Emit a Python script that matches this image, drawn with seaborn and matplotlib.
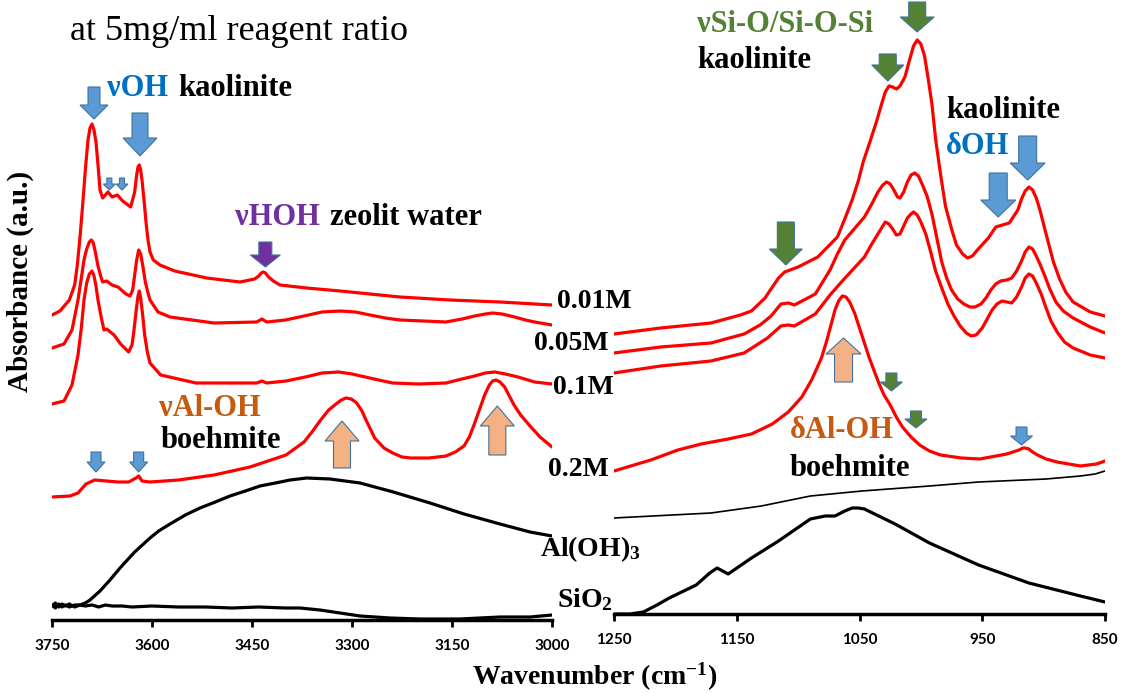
import matplotlib
matplotlib.use("Agg")
import matplotlib.pyplot as plt
from matplotlib.patches import Polygon
from matplotlib.transforms import IdentityTransform
import seaborn as sns

# ---------------- spectra: O-H stretching region (3750-3000 cm-1) ----------------
oh_wn_001 = [3750, 3738, 3724, 3716, 3712, 3708, 3704, 3700, 3696, 3693, 3690, 3687, 3684, 3681,
             3678, 3674, 3666, 3660, 3652, 3644, 3632, 3626, 3623, 3621, 3619, 3617, 3615, 3612,
             3609, 3606, 3603, 3598, 3588, 3566, 3518, 3468, 3446, 3440, 3436, 3433, 3430, 3425,
             3418, 3408, 3368, 3318, 3228, 3153, 3078, 3000]
oh_abs_001 = [3.05, 3.09, 3.20, 3.35, 3.55, 3.83, 4.15, 4.50, 4.80, 4.92, 4.96, 4.90, 4.78, 4.55,
              4.30, 4.22, 4.28, 4.23, 4.25, 4.19, 4.13, 4.28, 4.45, 4.53, 4.55, 4.50, 4.40, 4.20,
              3.98, 3.80, 3.68, 3.60, 3.55, 3.49, 3.42, 3.38, 3.41, 3.44, 3.47, 3.48, 3.47, 3.43,
              3.39, 3.35, 3.32, 3.29, 3.23, 3.20, 3.18, 3.15]

oh_wn_005 = [3750, 3732, 3720, 3711, 3706, 3702, 3698, 3694, 3691, 3688, 3685, 3681, 3677, 3674,
             3668, 3660, 3651, 3639, 3633, 3629, 3626, 3623, 3620, 3617, 3614, 3610, 3606, 3603,
             3591, 3573, 3507, 3443, 3435, 3428, 3400, 3372, 3345, 3318, 3295, 3273, 3250, 3228,
             3159, 3135, 3116, 3100, 3089, 3075, 3056, 3040, 3026, 3000]
oh_abs_005 = [2.72, 2.76, 2.90, 3.20, 3.42, 3.60, 3.71, 3.78, 3.80, 3.77, 3.68, 3.54, 3.44, 3.38,
              3.39, 3.35, 3.33, 3.26, 3.24, 3.30, 3.45, 3.60, 3.70, 3.66, 3.55, 3.38, 3.27, 3.20,
              3.08, 3.03, 2.97, 2.98, 3.01, 2.98, 3.00, 3.04, 3.08, 3.09, 3.08, 3.05, 3.02, 3.00,
              2.98, 3.01, 3.04, 3.06, 3.07, 3.06, 3.03, 3.00, 2.98, 2.95]

oh_wn_01 = [3750, 3732, 3720, 3711, 3706, 3702, 3698, 3694, 3690, 3687, 3684, 3681, 3676, 3672,
            3668, 3657, 3647, 3635, 3630, 3627, 3624, 3621, 3619, 3617, 3614, 3611, 3607, 3603,
            3587, 3534, 3443, 3435, 3428, 3399, 3370, 3345, 3320, 3300, 3280, 3260, 3239, 3200,
            3159, 3135, 3116, 3100, 3086, 3070, 3051, 3026, 3000]
oh_abs_01 = [2.16, 2.19, 2.35, 2.65, 2.92, 3.20, 3.37, 3.46, 3.49, 3.44, 3.34, 3.20, 3.02, 2.90,
             2.91, 2.85, 2.76, 2.68, 2.75, 2.90, 3.08, 3.24, 3.29, 3.22, 3.05, 2.85, 2.68, 2.57,
             2.45, 2.37, 2.37, 2.39, 2.37, 2.39, 2.43, 2.47, 2.48, 2.46, 2.43, 2.40, 2.37, 2.36,
             2.37, 2.41, 2.44, 2.47, 2.48, 2.46, 2.43, 2.38, 2.36]

oh_wn_02 = [3750, 3723, 3711, 3699, 3686, 3668, 3651, 3635, 3624, 3620, 3615, 3603, 3560, 3507,
            3453, 3399, 3372, 3360, 3347, 3335, 3324, 3316, 3309, 3301, 3293, 3285, 3279, 3266,
            3252, 3239, 3225, 3212, 3185, 3159, 3145, 3132, 3124, 3117, 3109, 3101, 3094, 3089,
            3084, 3078, 3071, 3064, 3057, 3047, 3033, 3018, 3000]
oh_abs_02 = [1.23, 1.24, 1.27, 1.36, 1.40, 1.39, 1.38, 1.38, 1.42, 1.44, 1.39, 1.38, 1.40, 1.45,
             1.53, 1.65, 1.78, 1.88, 2.00, 2.10, 2.16, 2.20, 2.22, 2.21, 2.17, 2.09, 2.00, 1.82,
             1.72, 1.67, 1.63, 1.62, 1.62, 1.64, 1.68, 1.74, 1.83, 1.95, 2.10, 2.25, 2.35, 2.39,
             2.40, 2.38, 2.33, 2.24, 2.15, 2.05, 1.94, 1.83, 1.73]

oh_wn_aloh = [3750, 3745, 3740, 3735, 3730, 3724, 3716, 3708, 3700, 3693, 3678, 3663, 3648, 3626,
              3603, 3590, 3573, 3550, 3528, 3505, 3483, 3460, 3438, 3415, 3393, 3368, 3333, 3288,
              3238, 3183, 3132, 3078, 3033, 3000]
oh_abs_aloh = [0.15, 0.12, 0.16, 0.13, 0.15, 0.13, 0.15, 0.15, 0.17, 0.20, 0.29, 0.40, 0.52, 0.68,
               0.82, 0.89, 0.96, 1.05, 1.12, 1.18, 1.24, 1.29, 1.34, 1.37, 1.40, 1.42, 1.41, 1.37,
               1.28, 1.17, 1.06, 0.96, 0.88, 0.84]

oh_wn_sio2 = [3750, 3745, 3740, 3735, 3730, 3724, 3716, 3708, 3700, 3690, 3680, 3670, 3660, 3645,
              3630, 3600, 3560, 3520, 3480, 3440, 3400, 3378, 3348, 3318, 3288, 3243, 3198, 3138,
              3078, 3033, 3000]
oh_abs_sio2 = [0.14, 0.17, 0.13, 0.16, 0.14, 0.16, 0.13, 0.15, 0.14, 0.15, 0.13, 0.15, 0.14, 0.14,
               0.13, 0.14, 0.13, 0.13, 0.12, 0.13, 0.12, 0.12, 0.10, 0.07, 0.04, 0.02, 0.01, 0.01,
               0.03, 0.03, 0.05]

# ---------------- spectra: lattice region (1250-850 cm-1) ----------------
fp_wn_001 = [1250, 1212, 1171, 1147, 1138, 1127, 1116, 1111, 1100, 1084, 1068, 1062, 1056, 1051,
             1047, 1041, 1036, 1032, 1029, 1026, 1023, 1020, 1017, 1013, 1009, 1006, 1003, 1000,
             997, 994, 991, 988, 984, 980, 975, 971, 966, 962, 958, 954, 945, 939, 928, 921, 918,
             915, 912, 909, 906, 903, 898, 892, 887, 882, 876, 862, 850]
fp_abs_001 = [2.80, 2.86, 2.91, 2.99, 3.03, 3.16, 3.36, 3.42, 3.47, 3.57, 3.77, 3.95, 4.14, 4.33,
              4.52, 4.74, 4.93, 5.10, 5.22, 5.28, 5.27, 5.25, 5.28, 5.37, 5.55, 5.68, 5.74, 5.70,
              5.58, 5.35, 5.10, 4.75, 4.40, 4.08, 3.85, 3.69, 3.60, 3.56, 3.58, 3.64, 3.76, 3.87,
              3.91, 4.04, 4.15, 4.23, 4.27, 4.24, 4.16, 4.04, 3.80, 3.52, 3.35, 3.22, 3.12, 3.02,
              2.98]

fp_wn_005 = [1250, 1212, 1171, 1144, 1131, 1122, 1114, 1108, 1103, 1086, 1074, 1068, 1062, 1046,
             1040, 1035, 1031, 1028, 1025, 1022, 1019, 1017, 1014, 1011, 1008, 1005, 1002, 999,
             995, 991, 987, 983, 979, 975, 970, 965, 960, 956, 951, 947, 943, 939, 935, 930, 926,
             922, 918, 915, 912, 909, 906, 903, 899, 895, 890, 884, 876, 862, 850]
fp_abs_005 = [2.61, 2.67, 2.71, 2.80, 2.89, 2.98, 3.10, 3.11, 3.09, 3.20, 3.44, 3.60, 3.74, 3.97,
              4.10, 4.22, 4.29, 4.32, 4.30, 4.24, 4.17, 4.16, 4.22, 4.32, 4.39, 4.41, 4.38, 4.30,
              4.18, 4.00, 3.76, 3.52, 3.36, 3.24, 3.15, 3.10, 3.07, 3.07, 3.10, 3.16, 3.24, 3.30,
              3.33, 3.34, 3.36, 3.43, 3.53, 3.62, 3.67, 3.65, 3.58, 3.50, 3.38, 3.25, 3.12, 3.03,
              2.96, 2.87, 2.81]

fp_wn_01 = [1250, 1212, 1171, 1144, 1125, 1114, 1108, 1103, 1086, 1074, 1064, 1046, 1040, 1035,
            1031, 1029, 1026, 1023, 1020, 1017, 1014, 1011, 1008, 1006, 1003, 1000, 996, 992, 988,
            983, 978, 973, 968, 963, 959, 955, 950, 946, 942, 938, 934, 930, 926, 922, 918, 915,
            912, 909, 906, 902, 898, 894, 889, 883, 876, 862, 850]
fp_abs_01 = [2.41, 2.48, 2.53, 2.61, 2.76, 2.88, 2.89, 2.88, 3.00, 3.19, 3.33, 3.57, 3.70, 3.80,
             3.88, 3.92, 3.90, 3.85, 3.79, 3.80, 3.88, 3.96, 4.00, 4.02, 3.99, 3.92, 3.80, 3.62,
             3.43, 3.26, 3.10, 2.98, 2.88, 2.81, 2.78, 2.79, 2.86, 2.95, 3.04, 3.10, 3.13, 3.12,
             3.11, 3.17, 3.27, 3.36, 3.40, 3.38, 3.31, 3.20, 3.06, 2.93, 2.82, 2.72, 2.66, 2.59,
             2.56]

fp_wn_02 = [1250, 1220, 1198, 1179, 1157, 1138, 1121, 1108, 1097, 1089, 1081, 1077, 1073, 1070,
            1067, 1064, 1061, 1058, 1054, 1050, 1046, 1042, 1038, 1034, 1030, 1025, 1020, 1015,
            1008, 1001, 993, 984, 967, 952, 930, 925, 920, 917, 915, 912, 909, 905, 898, 889, 870,
            857, 850]
fp_abs_02 = [1.43, 1.54, 1.64, 1.70, 1.75, 1.80, 1.90, 2.02, 2.17, 2.34, 2.56, 2.72, 2.90, 3.04,
             3.13, 3.18, 3.17, 3.12, 3.01, 2.86, 2.71, 2.56, 2.43, 2.30, 2.19, 2.09, 1.97, 1.87,
             1.77, 1.69, 1.63, 1.59, 1.56, 1.55, 1.60, 1.62, 1.64, 1.66, 1.66, 1.65, 1.62, 1.59,
             1.55, 1.52, 1.48, 1.50, 1.53]

fp_wn_aloh = [1250, 1171, 1130, 1090, 1048, 993, 953, 898, 870, 858, 850]
fp_abs_aloh = [0.96, 1.01, 1.08, 1.18, 1.23, 1.28, 1.32, 1.35, 1.38, 1.40, 1.43]

fp_wn_sio2 = [1250, 1237, 1226, 1215, 1205, 1183, 1172, 1166, 1163, 1157, 1138, 1116, 1090, 1078,
              1070, 1062, 1056, 1051, 1046, 1021, 993, 953, 912, 870, 850]
fp_abs_sio2 = [0.00, 0.00, 0.02, 0.09, 0.16, 0.29, 0.41, 0.46, 0.44, 0.40, 0.56, 0.73, 0.95, 0.98,
               0.98, 1.03, 1.06, 1.06, 1.05, 0.90, 0.71, 0.49, 0.31, 0.18, 0.12]

oh_ticks = [3750, 3600, 3450, 3300, 3150, 3000]
fp_ticks = [1250, 1150, 1050, 950, 850]

# ---------------- style ----------------
sns.set_style("white")
plt.rcParams["font.family"] = ["Liberation Serif", "DejaVu Serif"]
plt.rcParams["mathtext.fontset"] = "custom"
plt.rcParams["mathtext.rm"] = "Liberation Serif:bold"
plt.rcParams["mathtext.it"] = "Liberation Serif:bold"
plt.rcParams["mathtext.bf"] = "Liberation Serif:bold"

RED = "#FF0000"
C_BLUE_TXT = "#0070C0"
C_PURPLE = "#7030A0"
C_ORANGE_TXT = "#C55A11"
C_GREEN = "#548235"
A_BLUE = "#5B9BD5"
A_ORANGE = "#F4B183"
A_EDGE = "#41719C"

W, H = 1124, 693
fig = plt.figure(figsize=(W / 100, H / 100), dpi=100)
fig.patch.set_facecolor("white")


def rect(x0, x1, ybot):
    return [x0 / W, (H - ybot) / H, (x1 - x0) / W, ybot / H]


ax_oh = fig.add_axes(rect(52, 552, 620))
ax_fp = fig.add_axes(rect(614, 1105, 614))

thick = 2.3
for wn, ab in [(oh_wn_001, oh_abs_001), (oh_wn_005, oh_abs_005),
               (oh_wn_01, oh_abs_01), (oh_wn_02, oh_abs_02)]:
    sns.lineplot(x=wn, y=ab, ax=ax_oh, color=RED, linewidth=thick, sort=False, estimator=None)
for wn, ab in [(oh_wn_aloh, oh_abs_aloh), (oh_wn_sio2, oh_abs_sio2)]:
    sns.lineplot(x=wn, y=ab, ax=ax_oh, color="black", linewidth=thick, sort=False, estimator=None)

for wn, ab in [(fp_wn_001, fp_abs_001), (fp_wn_005, fp_abs_005),
               (fp_wn_01, fp_abs_01), (fp_wn_02, fp_abs_02)]:
    sns.lineplot(x=wn, y=ab, ax=ax_fp, color=RED, linewidth=thick, sort=False, estimator=None)
sns.lineplot(x=fp_wn_aloh, y=fp_abs_aloh, ax=ax_fp, color="black", linewidth=1.2,
             sort=False, estimator=None)
sns.lineplot(x=fp_wn_sio2, y=fp_abs_sio2, ax=ax_fp, color="black", linewidth=thick,
             sort=False, estimator=None)

ax_oh.set_xlim(3750, 3000)
ax_oh.set_ylim(0, 6.20)
ax_fp.set_xlim(1250, 850)
ax_fp.set_ylim(0, 6.14)

for ax, ticks in [(ax_oh, oh_ticks), (ax_fp, fp_ticks)]:
    for ln in ax.lines:
        ln.set_solid_joinstyle("round")
        ln.set_solid_capstyle("round")
    ax.set_facecolor("none")
    ax.set_xlabel("")
    ax.set_ylabel("")
    ax.set_yticks([])
    for side in ["left", "right", "top"]:
        ax.spines[side].set_visible(False)
    ax.spines["bottom"].set_color("black")
    ax.spines["bottom"].set_linewidth(2.5)
    ax.set_xticks(ticks)
    ax.set_xticklabels([str(t) for t in ticks], fontfamily="Lato", fontweight="bold", fontsize=11)
    ax.tick_params(axis="x", bottom=True, direction="out", length=5, width=2,
                   pad=9, colors="black")


# ---------------- block arrows ----------------
def block_arrow(ax, wn, ab, length, head_len, body_w, head_w, face, up=False, edge=A_EDGE):
    tx, ty = ax.transData.transform((wn, ab))
    s = -1 if up else 1
    hb, hh = body_w / 2, head_w / 2
    verts = [(tx, ty), (tx - hh, ty + s * head_len), (tx - hb, ty + s * head_len),
             (tx - hb, ty + s * length), (tx + hb, ty + s * length),
             (tx + hb, ty + s * head_len), (tx + hh, ty + s * head_len)]
    p = Polygon(verts, closed=True, transform=IdentityTransform(), facecolor=face,
                edgecolor=edge, linewidth=0.8, clip_on=False, zorder=5)
    fig.add_artist(p)


# O-H region
block_arrow(ax_oh, 3687, 5.01, 32, 14, 12, 28, A_BLUE)
block_arrow(ax_oh, 3618, 4.64, 43, 18, 16, 34, A_BLUE)
block_arrow(ax_oh, 3664, 4.30, 12, 6, 5, 12, A_BLUE)
block_arrow(ax_oh, 3645, 4.30, 12, 6, 5, 12, A_BLUE)
block_arrow(ax_oh, 3430, 3.53, 25, 12, 13, 30, C_PURPLE)
block_arrow(ax_oh, 3684, 1.48, 20, 10, 10, 18, A_BLUE)
block_arrow(ax_oh, 3620, 1.48, 20, 10, 10, 18, A_BLUE)
block_arrow(ax_oh, 3315, 1.99, 47, 20, 17, 34, A_ORANGE, up=True)
block_arrow(ax_oh, 3082, 2.14, 49, 20, 17, 34, A_ORANGE, up=True)

# lattice region
block_arrow(ax_fp, 1003, 5.82, 30, 15, 17, 34, C_GREEN)
block_arrow(ax_fp, 1027, 5.33, 27, 16, 17, 32, C_GREEN)
block_arrow(ax_fp, 1110, 3.49, 43, 16, 17, 33, C_GREEN)
block_arrow(ax_fp, 937, 3.97, 44, 17, 18, 35, A_BLUE)
block_arrow(ax_fp, 913, 4.34, 44, 17, 18, 35, A_BLUE)
block_arrow(ax_fp, 1063, 2.76, 44, 16, 18, 35, A_ORANGE, up=True)
block_arrow(ax_fp, 1024, 2.23, 18, 9, 11, 22, C_GREEN)
block_arrow(ax_fp, 1004, 1.86, 17, 9, 11, 22, C_GREEN)
block_arrow(ax_fp, 918, 1.69, 18, 9, 11, 22, A_BLUE)


# ---------------- texts ----------------
def txt(px, py, s, size=22, color="black", weight="bold", ha="left", **kw):
    fig.text(px / W, 1 - py / H, s, fontsize=size, color=color, fontweight=weight,
             ha=ha, va="center", **kw)


txt(70, 31, "at 5mg/ml reagent ratio", size=26, weight="normal")

txt(107, 88, "νOH", color=C_BLUE_TXT)
txt(178, 88, "kaolinite")
txt(235, 218, "νHOH", color=C_PURPLE)
txt(330, 218, "zeolit water")
txt(159, 408, "νAl-OH", color=C_ORANGE_TXT)
txt(161, 440, "boehmite")

txt(697, 25, "νSi-O/Si-O-Si", color=C_GREEN)
txt(697, 61, "kaolinite")
txt(946, 110, "kaolinite")
txt(946, 147, "δOH", color=C_BLUE_TXT)
txt(790, 430, "δAl-OH", color=C_ORANGE_TXT)
txt(790, 469, "boehmite")

txt(557, 301, "0.01M", size=20)
txt(534, 343, "0.05M", size=20)
txt(553, 387, "0.1M", size=20)
txt(548, 469, "0.2M", size=20)
txt(540, 549, "Al(OH)$_3$", size=20)
txt(557, 600, "SiO$_2$", size=20)

txt(20, 281, "Absorbance (a.u.)", size=21, ha="center", rotation=90)
txt(595, 677, "Wavenumber (cm$^{-1}$)", size=20, ha="center")

fig.savefig("out.png", dpi=100, facecolor="white")
